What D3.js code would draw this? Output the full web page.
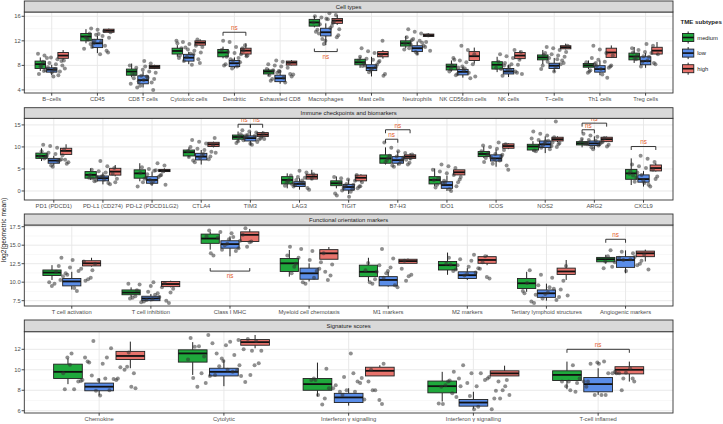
<!DOCTYPE html>
<html><head><meta charset="utf-8">
<script src="https://cdn.jsdelivr.net/npm/d3@7/dist/d3.min.js"></script>
<style>body{margin:0;background:#fff}svg text{font-family:"Liberation Sans",Arial,Helvetica,sans-serif}</style>
</head><body><svg id="c" width="723" height="424"></svg>
<script>
// ---------- DATA ----------
const groups = ["medium","low","high"];
const groupColors = ["#1FA83C","#5A8DE8","#E8736C"];
const yTitle = "log2(geometric mean)";
const legendTitle = "TME subtypes";

// Panel 1: Cell types  (box stats: [lower whisker, q1, median, q3, upper whisker])
const cellTypes = ["B\u2212cells","CD45","CD8 T cells","Cytotoxic cells","Dendritic","Exhausted CD8","Macrophages","Mast cells","Neutrophils","NK CD56dim cells","NK cells","T\u2212cells","Th1 cells","Treg cells"];
const cellMedium = [[7.1,7.5,8.2,8.7,9.3],[11.6,12.0,12.7,13.2,13.9],[6.05,6.4,7.0,7.4,8.3],[9.4,9.85,10.35,10.8,11.3],[9.15,9.4,10.1,10.6,11.05],[6.3,6.6,7.0,7.25,7.5],[14.2,14.4,15.0,15.5,16.05],[7.6,8.1,8.5,9.0,9.4],[10.8,11.15,11.6,12.0,12.8],[7.0,7.25,7.8,8.2,8.8],[6.9,7.4,8.1,8.6,9.4],[8.2,8.9,9.3,9.7,10.5],[7.4,7.7,8.0,8.3,8.8],[8.4,8.9,9.45,10.0,11.0]];
const cellLow = [[6.4,6.9,7.3,7.6,8.1],[10.0,10.9,11.6,12.25,12.8],[4.4,5.0,5.6,6.3,7.0],[8.2,8.7,9.25,9.8,10.2],[7.5,7.8,8.35,8.8,9.3],[5.0,5.35,5.9,6.4,7.25],[11.3,12.8,13.4,14.05,14.85],[6.2,7.15,7.6,8.1,9.4],[9.7,10.25,10.8,11.2,11.9],[6.0,6.45,6.95,7.35,7.8],[6.1,6.6,7.0,7.5,8.1],[6.9,7.5,7.95,8.35,9.2],[6.4,6.9,7.4,7.95,8.8],[7.6,8.1,8.7,9.4,10.0]];
const cellHigh = [[8.9,9.15,9.6,10.1,10.5],[13.35,13.4,13.65,13.9,14.0],[7.4,7.5,7.75,8.0,8.1],[11.2,11.3,11.7,12.0,12.25],[9.4,9.85,10.4,10.8,11.6],[8.0,8.05,8.45,8.7,8.85],[14.6,14.85,15.3,15.65,16.2],[9.1,9.4,9.85,10.25,10.5],[12.6,12.7,12.9,13.1,13.2],[8.3,8.8,9.5,10.25,10.9],[8.9,9.1,9.6,10.1,10.4],[10.6,10.7,10.95,11.2,11.55],[9.2,9.3,10.1,10.8,11.25],[9.7,9.85,10.4,10.95,11.8]];
const cellPoints = [
 [9.9,7.4,9.6,8.7,9.3,7.8,9.0,9.2,8.8,6.2,8.6,7.0,8.4,6.6,8.2,7.2,8.0,6.9,7.9,6.4,7.7,7.5,7.3,7.1],
 [14.0,10.1,13.8,12.3,13.6,11.6,13.4,9.8,13.2,10.4,13.0,12.6,12.8,11.0,12.5,13.1,12.2,11.2,12.0,10.7,11.8,11.5],
 [8.7,5.9,8.3,4.7,8.0,6.2,7.6,4.0,7.3,6.6,7.0,5.4,6.8,7.8,6.5,5.2,6.3,5.0,6.0,4.4,5.8,5.6],
 [12.2,9.4,12.0,9.8,11.8,8.4,11.5,9.2,11.2,10.9,11.0,8.1,10.8,9.0,10.6,11.6,10.4,8.7,10.1,9.9,9.6],
 [12.0,8.5,11.8,9.5,11.0,8.2,10.8,7.5,10.5,9.2,10.2,11.3,10.0,8.0,9.8,9.0,9.6,7.8,9.4,10.4,8.8],
 [8.8,6.5,8.6,5.8,8.4,7.1,8.2,5.2,8.0,6.2,7.8,5.5,7.6,6.8,7.4,6.0,7.2,6.6,7.0,6.4],
 [16.5,13.2,16.2,12.0,16.0,14.4,15.8,12.9,15.5,13.8,15.2,11.5,15.0,14.1,14.7,12.6,15.6,13.5,14.9,12.3,13.9],
 [12.0,7.5,10.8,8.5,10.3,6.6,10.0,8.3,9.7,7.2,9.4,8.1,9.1,6.3,8.9,7.9,8.7,6.9,8.8,7.7,8.0],
 [13.9,11.0,13.5,10.6,13.2,11.4,12.9,9.9,12.6,11.2,12.3,10.4,12.0,10.8,11.8,10.2,11.6,11.7,12.1],
 [11.2,7.4,10.5,6.6,9.8,7.2,9.2,5.9,8.8,7.0,8.5,6.4,8.2,7.8,8.0,6.8,7.6,6.2,7.5,8.9],
 [10.5,8.0,10.2,7.2,9.8,6.8,9.5,7.6,9.2,6.3,8.9,7.8,8.6,7.0,8.4,6.6,8.2,7.4,8.1,7.3],
 [11.2,9.0,11.0,8.4,10.8,8.0,10.5,9.2,10.2,7.7,10.0,8.8,9.8,7.4,9.6,8.6,9.4,7.0,9.7,8.2],
 [11.2,7.8,10.6,7.0,10.0,8.4,9.6,6.5,9.2,7.6,8.9,6.8,8.6,8.2,8.0,7.4,7.2,6.0,7.9,8.5],
 [11.5,9.0,11.2,8.6,10.8,9.4,10.5,8.2,10.2,9.2,10.0,7.8,9.8,8.8,9.6,8.4,9.5,10.1]
];
const cellTicks = [4,8,12,16];
const cellTickLabels = ["4","8","12","16"];
const cellSig = [{cat:"Dendritic",a:"medium",b:"high",y:13.4,below:false},{cat:"Macrophages",a:"medium",b:"high",y:10.25,below:true}];

// Panel 2: Immune checkpoints and biomarkers
const icTypes = ["PD1 (PDCD1)","PD-L1 (CD274)","PD-L2 (PDCD1LG2)","CTLA4","TIM3","LAG3","TIGIT","B7-H3","IDO1","ICOS","NOS2","ARG2","CXCL9"];
const icMedium = [[6.8,7.4,7.95,8.6,9.7],[2.5,2.9,3.65,4.4,5.15],[2.2,2.9,4.0,4.8,6.3],[7.6,7.95,8.8,9.3,9.9],[11.2,11.75,12.25,12.7,13.5],[0.6,1.6,2.5,3.25,4.0],[0.6,1.2,1.75,2.3,3.3],[6.0,6.3,7.4,8.2,9.9],[1.1,1.6,2.5,3.25,5.1],[7.5,7.8,8.4,8.95,10.1],[8.9,9.3,10.1,10.6,11.3],[9.9,10.45,10.8,11.2,11.9],[1.35,2.65,4.0,4.9,7.4]];
const icLow = [[5.8,6.3,6.9,7.4,8.0],[1.5,2.3,2.9,3.4,4.2],[1.2,1.75,2.5,3.25,4.4],[6.0,7.05,7.8,8.55,9.3],[10.4,11.35,12.0,12.5,13.5],[0.3,1.0,1.6,2.1,2.9],[-0.7,0.2,0.9,1.5,2.6],[5.8,6.3,7.0,7.8,9.0],[0.0,0.6,1.35,2.1,3.5],[5.5,6.8,7.4,8.2,9.4],[8.6,9.85,10.6,11.35,12.4],[9.5,10.3,10.8,11.35,12.4],[1.0,2.0,2.7,3.65,4.5]];
const icHigh = [[8.2,8.3,9.1,9.7,10.6],[3.3,3.6,4.4,5.15,5.9],[4.2,4.4,4.6,4.9,5.15],[9.9,10.1,10.6,11.05,11.2],[12.1,12.35,12.8,13.25,13.5],[2.5,2.7,3.25,3.8,4.8],[2.0,2.3,3.0,3.6,3.8],[7.0,7.4,7.8,8.2,8.6],[3.65,3.65,4.25,4.8,4.8],[9.5,9.7,10.2,10.7,10.85],[11.1,11.35,11.75,12.2,12.4],[11.1,11.2,11.75,12.2,12.4],[4.4,4.55,5.2,5.9,6.3]];
const icPoints = [
 [10.5,7.2,10.2,6.5,9.8,7.6,9.4,5.5,9.0,7.0,8.7,6.2,8.4,7.4,8.1,5.8,7.9,6.8,8.0,7.1],
 [6.8,3.0,5.6,2.4,5.2,3.4,4.8,1.5,4.5,2.8,4.2,2.2,3.9,3.3,3.6,1.8,3.2,2.0,2.6,2.9],
 [6.3,3.0,5.8,2.2,5.4,3.5,5.0,1.0,4.7,2.8,4.4,1.7,4.1,3.2,3.8,1.4,4.6,2.0,3.6,2.5],
 [12.0,8.4,11.6,7.8,11.2,9.0,10.8,6.5,10.4,8.1,10.0,7.2,9.6,8.7,9.3,6.9,8.9,7.5,7.7],
 [13.8,11.9,13.5,11.3,13.3,12.1,13.1,10.5,12.9,11.7,12.7,10.9,12.5,11.5,12.3,10.7,12.2,11.1,12.6,11.8],
 [4.6,2.2,4.2,1.4,3.8,2.4,3.5,0.3,3.2,2.0,3.0,1.0,2.8,1.8,2.6,0.7,2.5,1.2,1.7,1.6],
 [3.6,1.2,3.2,0.4,2.9,1.0,2.6,-1.0,2.3,0.8,2.0,-0.2,1.8,0.6,1.6,-0.6,1.4,0.1,1.1,-1.3],
 [11.0,7.2,9.8,6.4,9.0,7.0,8.6,5.5,8.3,6.8,8.0,6.0,7.8,6.6,7.6,5.8,7.4,6.2,7.5,7.1],
 [6.0,2.6,5.6,1.4,5.2,2.3,4.8,0.0,4.4,2.0,4.0,0.8,3.6,1.7,3.2,0.4,2.9,1.1,1.9,2.5],
 [11.0,8.1,10.6,7.2,10.3,7.8,10.0,4.8,9.6,7.5,9.3,6.2,9.0,6.9,8.7,5.8,8.4,6.6,8.2,7.6],
 [15.8,10.8,13.5,10.2,13.0,10.6,12.6,9.0,12.2,10.4,11.9,9.5,11.6,10.0,11.3,9.2,11.0,9.8,10.9,11.4],
 [13.0,11.0,12.6,10.5,12.3,10.9,12.0,9.5,11.8,10.8,11.6,10.1,11.4,10.7,11.2,9.9,11.1,10.3,10.6],
 [8.0,3.9,7.3,3.0,6.6,2.4,6.0,1.0,5.6,3.3,5.2,2.1,4.8,3.6,4.5,1.4,4.2,2.7,1.8,3.5]
];
const icTicks = [0,5,10,15];
const icTickLabels = ["0","5","10","15"];
const icSig = [{cat:"TIM3",a:"medium",b:"low",y:15.15,below:false},{cat:"TIM3",a:"low",b:"high",y:15.15,below:false},{cat:"B7-H3",a:"medium",b:"low",y:11.75,below:false},{cat:"B7-H3",a:"medium",b:"high",y:13.9,below:false},{cat:"ARG2",a:"medium",b:"low",y:13.9,below:false},{cat:"ARG2",a:"medium",b:"high",y:15.4,below:false},{cat:"CXCL9",a:"medium",b:"high",y:10.1,below:false}];

// Panel 3: Functional orientation markers
const foTypes = ["T cell activation","T cell inhibition","Class I MHC","Myeloid cell chemotaxis","M1 markers","M2 markers","Tertiary lymphoid structures","Angiogenic markers"];
const foMedium = [[10.3,10.9,11.3,11.65,12.3],[8.0,8.3,8.6,8.95,9.3],[14.4,15.25,15.9,16.5,16.8],[10.75,11.45,12.55,13.2,14.35],[10.1,10.75,11.4,12.3,13.3],[11.0,11.65,12.3,12.8,14.0],[8.7,9.15,9.85,10.5,11.4],[12.5,12.75,13.1,13.35,13.7]];
const foLow = [[9.0,9.5,10.1,10.5,11.4],[7.4,7.5,7.8,8.1,8.4],[13.5,14.6,15.15,15.6,16.2],[10.1,10.4,11.2,11.9,12.55],[9.4,9.5,10.3,10.75,11.4],[10.3,10.5,10.95,11.4,11.9],[7.5,7.95,8.5,8.95,9.8],[11.2,12.0,13.0,13.45,14.3]];
const foHigh = [[12.1,12.2,12.55,12.9,13.3],[9.3,9.4,9.75,10.1,10.2],[15.5,15.5,16.4,16.8,17.2],[13.1,13.1,13.9,14.4,14.75],[12.55,12.55,12.85,13.1,13.2],[12.3,12.55,13.0,13.45,13.7],[10.3,11.05,11.45,11.9,13.0],[12.8,13.45,13.9,14.2,14.4]];
const foPoints = [
 [13.3,10.6,13.0,9.8,12.8,11.2,12.5,8.8,12.2,10.4,12.0,9.5,11.8,10.8,11.6,9.2,11.4,10.2,11.0,10.0,11.5,10.3],
 [10.0,8.1,9.9,7.6,9.8,8.5,9.7,7.2,9.5,7.9,9.3,7.4,9.1,8.3,8.9,7.5,8.7,7.8,8.0,7.3,8.6,7.7],
 [17.3,15.2,17.0,14.6,16.8,15.4,16.6,13.6,16.4,15.0,16.2,14.2,16.0,14.8,15.8,13.9,15.6,14.4,15.5,16.1],
 [14.8,11.8,14.5,10.9,14.2,12.1,13.9,9.8,13.6,11.5,13.3,10.3,13.0,11.2,12.7,10.0,12.4,10.6,12.5,11.4],
 [14.5,11.0,13.2,10.4,12.9,11.2,12.6,9.3,12.3,10.8,12.0,9.8,11.8,10.6,11.6,9.6,11.4,10.2,11.5,10.0],
 [13.7,11.7,13.5,11.1,13.3,11.9,13.1,10.5,12.9,11.5,12.7,10.9,12.5,11.3,12.3,10.7,12.1,12.4,11.8],
 [12.2,8.6,11.6,8.0,11.0,8.8,10.6,7.2,10.2,8.4,9.9,7.6,9.6,8.2,9.3,7.4,9.0,7.8,8.5,9.1,8.3],
 [14.3,12.5,14.1,11.9,13.9,12.7,13.7,11.5,13.5,12.3,13.3,11.7,13.1,12.1,12.9,13.0,12.8,13.4]
];
const foTicks = [7.5,10,12.5,15,17.5];
const foTickLabels = ["7.5","10.0","12.5","15.0","17.5"];
const foSig = [{cat:"Class I MHC",a:"medium",b:"high",y:11.5,below:true},{cat:"Angiogenic markers",a:"medium",b:"low",y:15.8,below:false}];

// Panel 4: Signature scores
const sigTypes = ["Chemokine","Cytolytic","Interferon \u03b3 signalling","Interferon \u03b3 signalling","T-cell inflamed"];
const sigMedium = [[8.6,9.15,9.8,10.55,11.1],[9.5,10.75,11.6,11.95,12.7],[7.4,8.0,8.6,9.15,10.7],[6.9,7.75,8.4,8.9,9.8],[8.1,8.95,9.5,9.9,10.8]];
const sigLow = [[7.5,7.95,8.35,8.7,9.15],[8.4,9.4,9.8,10.15,10.95],[6.5,6.8,7.3,7.7,8.2],[6.2,6.45,6.8,7.1,7.85],[7.55,7.85,8.6,9.25,10.15]];
const sigHigh = [[10.15,11.0,11.35,11.8,12.75],[12.1,12.4,12.7,12.95,13.4],[9.4,9.4,9.9,10.25,10.45],[9.4,9.4,9.65,9.9,10.4],[8.85,9.6,10.0,10.3,10.8]];
const sigPoints = [
 [12.8,8.1,12.1,9.0,11.7,7.5,11.6,9.15,10.7,8.2,11.2,8.85,10.0,7.95,11.2,9.1,11.2,8.35,10.6,8.1,10.25,9.45,9.65,8.0,8.9,10.3,9.0,10.5,9.0,10.8,9.65,9.15],
 [12.9,9.4,12.8,10.0,12.3,8.8,11.6,11.0,11.45,8.7,11.85,10.85,12.25,9.4,12.6,10.65,12.75,9.65,13.0,10.35,13.1,9.9,13.4,10.45,12.4,8.35,12.0,9.5,11.85,9.8,11.3,9.5,11.1,9.2,10.45],
 [10.6,7.85,10.1,8.0,9.3,9.0,9.2,8.2,7.05,11.6,6.6,8.85,7.85,9.0,8.85,8.2,8.0,8.0,7.55,7.1,8.5,6.65,9.65,7.2,10.0,7.55,9.15,8.7],
 [9.8,7.2,9.65,6.65,9.3,8.4,9.0,6.4,8.95,7.95,8.7,6.7,9.0,7.35,8.0,6.15,8.5,6.15,10.45,7.55,9.65,7.7,8.85,7.45,8.35,9.15,9.15,8.4,8.4,8.85,7.2],
 [10.6,8.0,9.65,8.85,8.85,7.55,8.7,9.15,7.55,8.4,9.65,8.85,10.15,7.55,10.45,9.65,10.6,8.85,9.65,9.15,9.7,10.7,8.85,9.8,8.35,9.15,10.8,7.85,8.0]
];
const sigTicks = [6,8,10,12];
const sigTickLabels = ["6","8","10","12"];
const sigSig = [{cat:"T-cell inflamed",a:"medium",b:"high",y:12.0,below:false}];

// ---------- LAYOUT / DRAW ----------
const panels = [
 {title:"Cell types", cats:cellTypes, boxes:[cellMedium,cellLow,cellHigh], pts:cellPoints, ticks:cellTicks, tl:cellTickLabels, sig:cellSig, dom:[3.5,16.7], strip:[1,12], plot:[12,93]},
 {title:"Immune checkpoints and biomarkers", cats:icTypes, boxes:[icMedium,icLow,icHigh], pts:icPoints, ticks:icTicks, tl:icTickLabels, sig:icSig, dom:[-2.05,16.5], strip:[107.7,118.3], plot:[118.3,200]},
 {title:"Functional orientation markers", cats:foTypes, boxes:[foMedium,foLow,foHigh], pts:foPoints, ticks:foTicks, tl:foTickLabels, sig:foSig, dom:[6.78,17.73], strip:[214,225], plot:[225,306]},
 {title:"Signature scores", cats:sigTypes, boxes:[sigMedium,sigLow,sigHigh], pts:sigPoints, ticks:sigTicks, tl:sigTickLabels, sig:sigSig, dom:[5.78,13.72], strip:[320,331.7], plot:[331.7,413]}
];
const svg = d3.select("#c");
const L = 24.3, R = 673;
const FS = 5.8;
const frac = v => v - Math.floor(v);

panels.forEach((p, pi) => {
  const idx = d3.range(p.cats.length);
  const x = d3.scalePoint().domain(idx).range([L, R]).padding(0.6);
  const step = x.step();
  const y = d3.scaleLinear().domain(p.dom).range([p.plot[1], p.plot[0]]);
  const g = svg.append("g");
  const top = p.plot[0], bot = p.plot[1];
  // grid
  const d = p.ticks[1] - p.ticks[0];
  const minors = p.ticks.map(v => v - d/2).concat([p.ticks[p.ticks.length-1] + d/2]).filter(v => v > p.dom[0] && v < p.dom[1]);
  g.selectAll(".mn").data(minors).join("line").attr("x1",L).attr("x2",R).attr("y1",v=>y(v)).attr("y2",v=>y(v)).attr("stroke","#F0F0F0").attr("stroke-width",0.5);
  g.selectAll(".mj").data(p.ticks).join("line").attr("x1",L).attr("x2",R).attr("y1",v=>y(v)).attr("y2",v=>y(v)).attr("stroke","#E6E6E6").attr("stroke-width",0.9);
  g.selectAll(".vx").data(idx).join("line").attr("x1",i=>x(i)).attr("x2",i=>x(i)).attr("y1",top).attr("y2",bot).attr("stroke","#E6E6E6").attr("stroke-width",0.9);
  // boxes
  const bw = 0.23*step;
  idx.forEach(i => {
    groups.forEach((gr, gi) => {
      const s = p.boxes[gi][i];
      const cx = x(i) + (gi-1)*0.25*step;
      g.append("line").attr("x1",cx).attr("x2",cx).attr("y1",y(s[4])).attr("y2",y(s[3])).attr("stroke","#222").attr("stroke-width",1);
      g.append("line").attr("x1",cx).attr("x2",cx).attr("y1",y(s[1])).attr("y2",y(s[0])).attr("stroke","#222").attr("stroke-width",1);
      g.append("rect").attr("x",cx-bw/2).attr("width",bw).attr("y",y(s[3])).attr("height",Math.max(0.5,y(s[1])-y(s[3])))
        .attr("fill",groupColors[gi]).attr("stroke","#222").attr("stroke-width",0.9);
      g.append("line").attr("x1",cx-bw/2).attr("x2",cx+bw/2).attr("y1",y(s[2])).attr("y2",y(s[2])).attr("stroke","#111").attr("stroke-width",1.8);
    });
  });
  // points (deterministic jitter around category centre)
  idx.forEach(i => {
    p.pts[i].forEach((v, k) => {
      const off = (frac(k*0.6180339887 + i*0.2718 + pi*0.141) - 0.5) * 2 * 0.3 * step;
      g.append("circle").attr("cx", x(i)+off).attr("cy", y(v)).attr("r", 2).attr("fill","#333").attr("fill-opacity",0.55);
    });
  });
  // significance brackets
  p.sig.forEach(s => {
    const i = p.cats.indexOf(s.cat);
    const xa = x(i) + (groups.indexOf(s.a)-1)*0.25*step;
    const xb = x(i) + (groups.indexOf(s.b)-1)*0.25*step;
    const yy = y(s.y), tip = s.below ? -3 : 3.5;
    g.append("path").attr("d",`M${xa},${yy+tip}V${yy}H${xb}V${yy+tip}`).attr("fill","none").attr("stroke","#222").attr("stroke-width",0.9);
    g.append("text").attr("x",(xa+xb)/2).attr("y", s.below ? yy+7 : yy-2).attr("text-anchor","middle")
      .attr("font-size",6.3).attr("fill","#E4602E").text("ns");
  });
  // panel border
  g.append("rect").attr("x",L).attr("y",top).attr("width",R-L).attr("height",bot-top).attr("fill","none").attr("stroke","#333").attr("stroke-width",0.9);
  // strip
  g.append("rect").attr("x",L).attr("y",p.strip[0]).attr("width",R-L).attr("height",p.strip[1]-p.strip[0]).attr("fill","#D9D9D9").attr("stroke","#333").attr("stroke-width",0.9);
  g.append("text").attr("x",(L+R)/2).attr("y",(p.strip[0]+p.strip[1])/2+2.1).attr("text-anchor","middle").attr("font-size",5.9).attr("fill","#1A1A1A").text(p.title);
  // y axis
  p.ticks.forEach((v, k) => {
    g.append("line").attr("x1",L-2.7).attr("x2",L).attr("y1",y(v)).attr("y2",y(v)).attr("stroke","#333").attr("stroke-width",0.9);
    g.append("text").attr("x",L-3.6).attr("y",y(v)+2.1).attr("text-anchor","end").attr("font-size",FS).attr("fill","#4D4D4D").text(p.tl[k]);
  });
  // x axis
  idx.forEach(i => {
    g.append("line").attr("x1",x(i)).attr("x2",x(i)).attr("y1",bot).attr("y2",bot+2.7).attr("stroke","#333").attr("stroke-width",0.9);
    g.append("text").attr("x",x(i)).attr("y",bot+8.3).attr("text-anchor","middle").attr("font-size",FS).attr("fill","#4D4D4D").text(p.cats[i]);
  });
});

// y axis title
svg.append("text").attr("transform","translate(6,230) rotate(-90)").attr("text-anchor","middle").attr("font-size",6.6).attr("fill","#1A1A1A").text(yTitle);

// legend
const lg = svg.append("g");
lg.append("text").attr("x",680.5).attr("y",23.8).attr("font-size",6.1).attr("font-weight","bold").attr("fill","#1A1A1A").text(legendTitle);
groups.forEach((gr, gi) => {
  const cy = 37.5 + gi*15.6, kx = 682, kw = 12.3;
  lg.append("line").attr("x1",kx+kw/2).attr("x2",kx+kw/2).attr("y1",cy-6).attr("y2",cy+6).attr("stroke","#222").attr("stroke-width",1);
  lg.append("rect").attr("x",kx+0.5).attr("y",cy-4).attr("width",kw-1).attr("height",8).attr("fill",groupColors[gi]).attr("stroke","#222").attr("stroke-width",0.9);
  lg.append("line").attr("x1",kx+0.5).attr("x2",kx+kw-0.5).attr("y1",cy).attr("y2",cy).attr("stroke","#111").attr("stroke-width",1.6);
  lg.append("text").attr("x",697.3).attr("y",cy+2.1).attr("font-size",5.8).attr("fill","#1A1A1A").text(gr);
});
</script></body></html>
